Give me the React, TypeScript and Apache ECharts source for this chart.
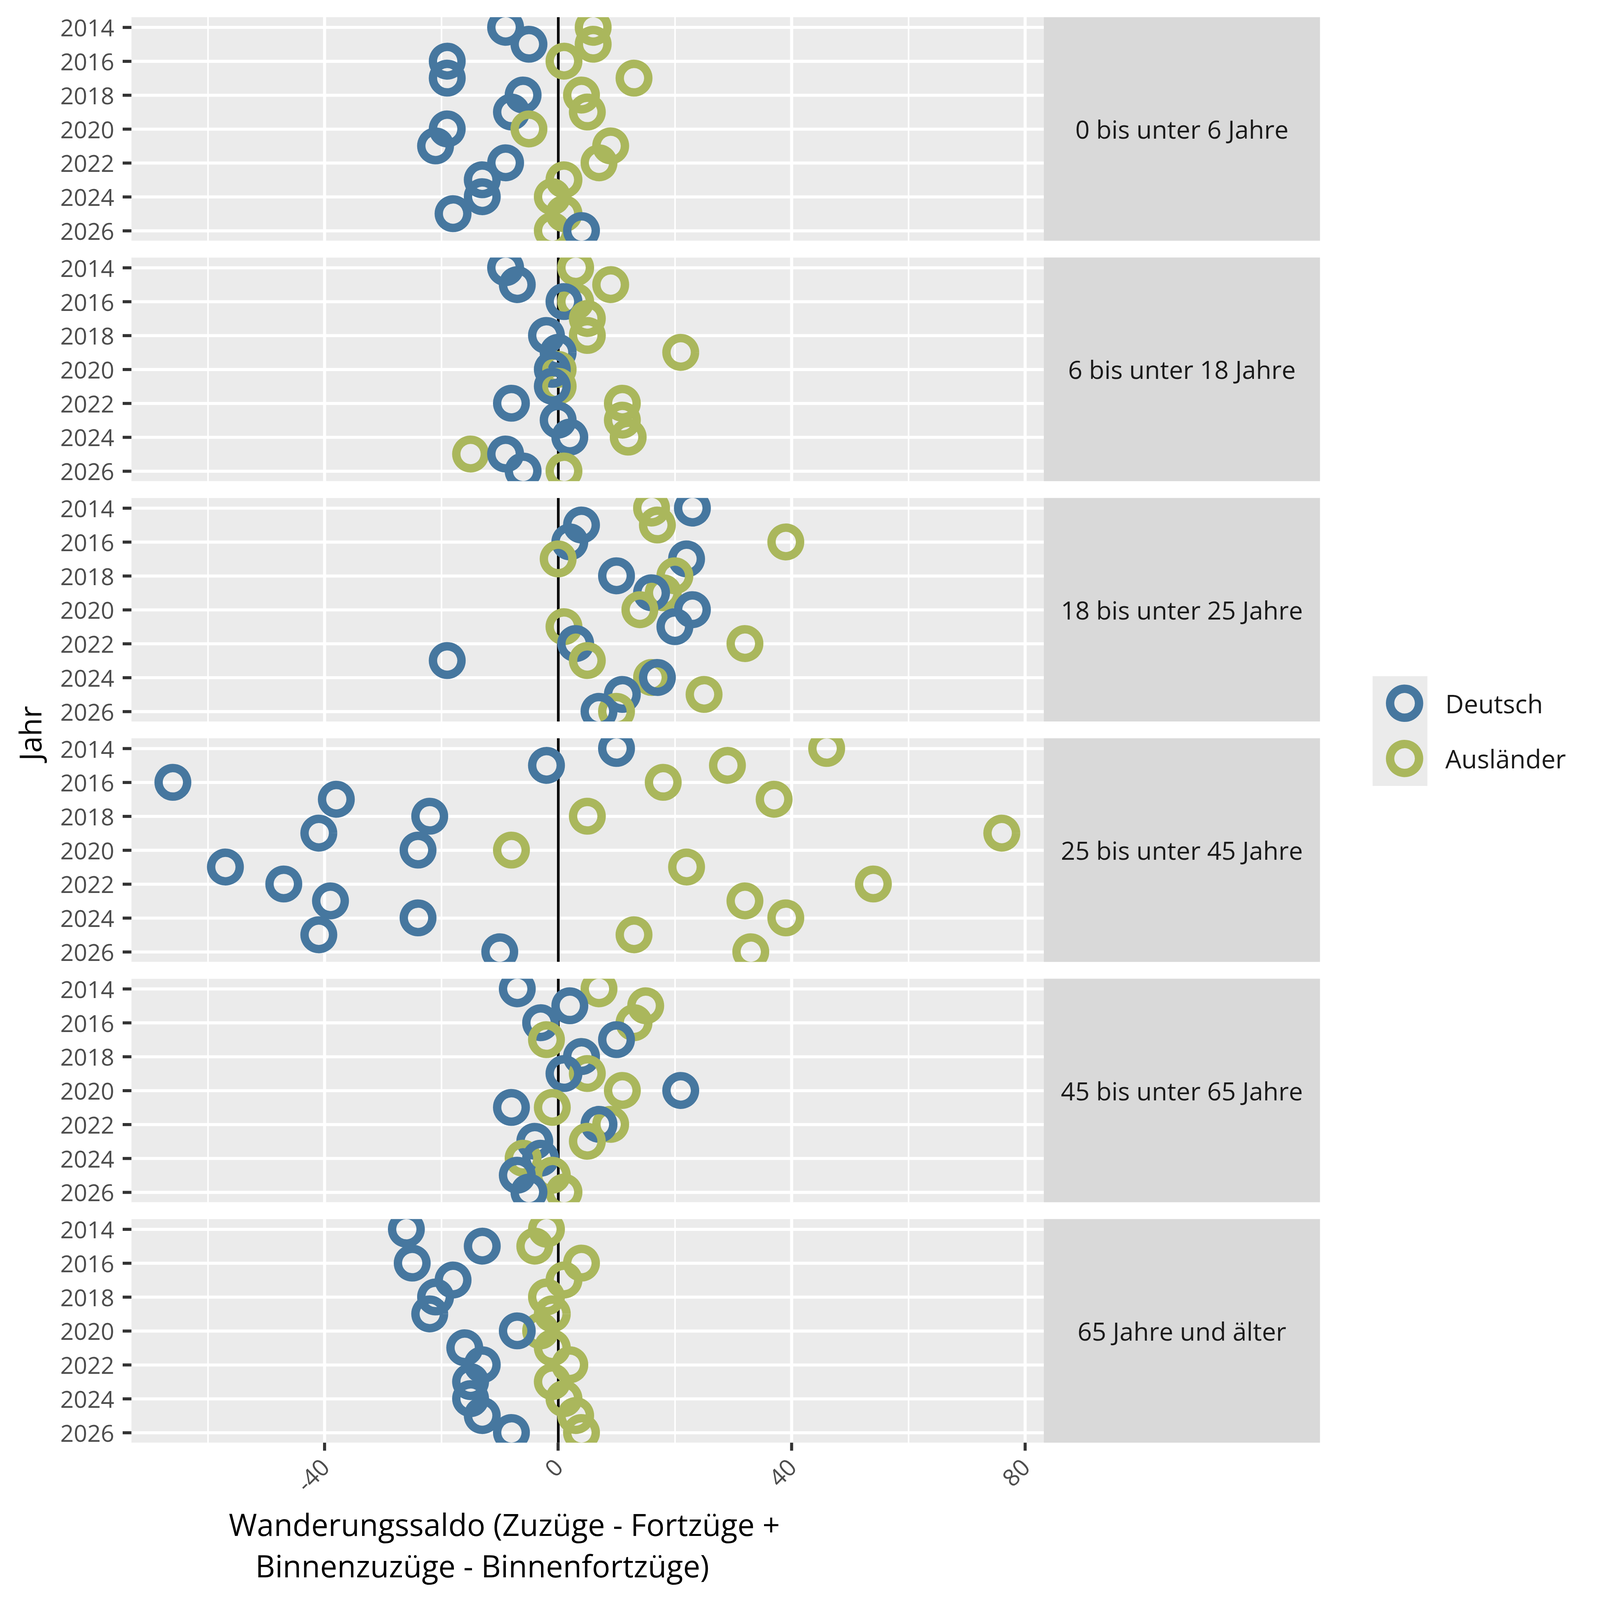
import React, { useEffect, useRef } from "react";
import * as echarts from "echarts";

// ---------- data ----------
const years = [2014, 2015, 2016, 2017, 2018, 2019, 2020, 2021, 2022, 2023, 2024, 2025, 2026];
const yearTicks = [2014, 2016, 2018, 2020, 2022, 2024, 2026];
const xTicks = [-40, 0, 40, 80];
const xMinorTicks = [-60, -20, 20, 60];

const ageGroups = [
  "0 bis unter 6 Jahre",
  "6 bis unter 18 Jahre",
  "18 bis unter 25 Jahre",
  "25 bis unter 45 Jahre",
  "45 bis unter 65 Jahre",
  "65 Jahre und älter",
];
const nationalities = ["Deutsch", "Ausländer"];

const deutsch_0_6 = [-9, -5, -19, -19, -6, -8, -19, -21, -9, -13, -13, -18, 4];
const auslaender_0_6 = [6, 6, 1, 13, 4, 5, -5, 9, 7, 1, -1, 1, -1];
const deutsch_6_18 = [-9, -7, 1, null, -2, 0, -1, -1, -8, 0, 2, -9, -6];
const auslaender_6_18 = [3, 9, 3, 5, 5, 21, 0, 0, 11, 11, 12, -15, 1];
const deutsch_18_25 = [23, 4, 2, 22, 10, 16, 23, 20, 3, -19, 17, 11, 7];
const auslaender_18_25 = [16, 17, 39, 0, 20, 18, 14, 1, 32, 5, 16, 25, 10];
const deutsch_25_45 = [10, -2, -66, -38, -22, -41, -24, -57, -47, -39, -24, -41, -10];
const auslaender_25_45 = [46, 29, 18, 37, 5, 76, -8, 22, 54, 32, 39, 13, 33];
const deutsch_45_65 = [-7, 2, -3, 10, 4, 1, 21, -8, 7, -4, -3, -7, -5];
const auslaender_45_65 = [7, 15, 13, -2, 4, 5, 11, -1, 9, 5, -6, -1, 1];
const deutsch_65 = [-26, -13, -25, -18, -21, -22, -7, -16, -13, -15, -15, -13, -8];
const auslaender_65 = [-2, -4, 4, 1, -2, -1, -3, -1, 2, -1, 1, 3, 4];

const deutschByGroup = [deutsch_0_6, deutsch_6_18, deutsch_18_25, deutsch_25_45, deutsch_45_65, deutsch_65];
const auslaenderByGroup = [auslaender_0_6, auslaender_6_18, auslaender_18_25, auslaender_25_45, auslaender_45_65, auslaender_65];

const xTitleLines = ["Wanderungssaldo (Zuzüge - Fortzüge +", "Binnenzuzüge - Binnenfortzüge)"];
const yTitle = "Jahr";

// ---------- layout / style ----------
const FONT = "Open Sans";
const W = 4200;
const H = 4200;
const PANEL_LEFT = 345;
const PANEL_RIGHT = 2740;
const STRIP_RIGHT = 3465;
const PANEL_TOP0 = 45;
const PANEL_H = 587;
const PANEL_STEP = 631;
const X_MIN = -73.1;
const X_MAX = 83.2;
const Y_MIN = 2013.4;
const Y_MAX = 2026.6;
const COLOR_DEUTSCH = "#46779F";
const COLOR_AUSLAENDER = "#AAB75C";
const SYMBOL_SIZE = 75;
const RING_WIDTH = 22;

// points drawn year by year (Ausländer first, Deutsch on top), like the reference
function panelPoints(deu: (number | null)[], aus: (number | null)[]) {
  const out: any[] = [];
  years.forEach((y, j) => {
    if (aus[j] !== null && aus[j] !== undefined) {
      out.push({ value: [aus[j], y], itemStyle: { borderColor: COLOR_AUSLAENDER } });
    }
    if (deu[j] !== null && deu[j] !== undefined) {
      out.push({ value: [deu[j], y], itemStyle: { borderColor: COLOR_DEUTSCH } });
    }
  });
  return out;
}

function buildOption() {
  const n = ageGroups.length;
  const panelW = PANEL_RIGHT - PANEL_LEFT;
  const grids: any[] = [];
  const xAxes: any[] = [];
  const yAxes: any[] = [];
  const series: any[] = [];
  const graphics: any[] = [];

  for (let i = 0; i < n; i++) {
    const top = PANEL_TOP0 + i * PANEL_STEP;
    grids.push({
      left: PANEL_LEFT,
      top,
      width: panelW,
      height: PANEL_H,
      show: true,
      backgroundColor: "#EBEBEB",
      borderWidth: 0,
      z: 0,
    });
    yAxes.push({
      gridIndex: i,
      type: "value",
      inverse: true,
      min: Y_MIN,
      max: Y_MAX,
      position: "left",
      z: 1,
      axisLine: { show: false, onZero: false },
      axisTick: {
        show: true,
        customValues: yearTicks,
        length: 23,
        lineStyle: { color: "#333333", width: 8 },
      },
      axisLabel: {
        show: true,
        customValues: yearTicks,
        margin: 45,
        fontSize: 62,
        fontFamily: FONT,
        color: "#4D4D4D",
        formatter: (v: number) => String(v),
      },
      splitLine: { show: true, lineStyle: { color: "#FFFFFF", width: 8 } },
    });
  }
  // major x gridlines
  for (let i = 0; i < n; i++) {
    xAxes.push({
      gridIndex: i,
      type: "value",
      min: X_MIN,
      max: X_MAX,
      position: "bottom",
      z: 1,
      axisLine: { show: false, onZero: false },
      axisTick: { show: false, customValues: xTicks },
      axisLabel: { show: false, customValues: xTicks },
      splitLine: { show: true, lineStyle: { color: "#FFFFFF", width: 8 } },
    });
  }
  // minor x gridlines
  for (let i = 0; i < n; i++) {
    xAxes.push({
      gridIndex: i,
      type: "value",
      min: X_MIN,
      max: X_MAX,
      position: "top",
      z: 1,
      axisLine: { show: false, onZero: false },
      axisTick: { show: false, customValues: xMinorTicks },
      axisLabel: { show: false, customValues: xMinorTicks },
      splitLine: { show: true, lineStyle: { color: "#FFFFFF", width: 4 } },
    });
  }
  // ticks + labels of bottom panel
  xAxes.push({
    gridIndex: n - 1,
    type: "value",
    min: X_MIN,
    max: X_MAX,
    position: "bottom",
    z: 6,
    axisLine: { show: false, onZero: false },
    axisTick: {
      show: true,
      customValues: xTicks,
      length: 21,
      lineStyle: { color: "#333333", width: 8 },
    },
    axisLabel: {
      show: true,
      customValues: xTicks,
      rotate: 45,
      margin: 52,
      fontSize: 62,
      fontFamily: FONT,
      color: "#4D4D4D",
      formatter: (v: number) => String(v),
    },
    splitLine: { show: false },
  });

  // legend-only series (no data) carrying the two nationality styles
  [COLOR_DEUTSCH, COLOR_AUSLAENDER].forEach((c, k) => {
    series.push({
      type: "scatter",
      name: nationalities[k],
      xAxisIndex: 0,
      yAxisIndex: 0,
      data: [],
      symbol: "circle",
      symbolSize: SYMBOL_SIZE,
      silent: true,
      itemStyle: { color: "rgba(0,0,0,0)", borderColor: c, borderWidth: RING_WIDTH, opacity: 1 },
    });
  });

  for (let i = 0; i < n; i++) {
    series.push({
      type: "scatter",
      name: ageGroups[i],
      xAxisIndex: i,
      yAxisIndex: i,
      data: panelPoints(deutschByGroup[i], auslaenderByGroup[i]),
      symbol: "circle",
      symbolSize: SYMBOL_SIZE,
      clip: false,
      silent: true,
      z: 3,
      itemStyle: {
        color: "rgba(0,0,0,0)",
        borderColor: COLOR_DEUTSCH,
        borderWidth: RING_WIDTH,
        opacity: 1,
      },
      emphasis: { disabled: true },
      markLine: {
        silent: true,
        z: 2,
        symbol: ["none", "none"],
        label: { show: false },
        lineStyle: { color: "#000000", width: 7, type: "solid", opacity: 1 },
        emphasis: { disabled: true },
        data: [{ xAxis: 0 }],
      },
    });
  }

  // white covers to clip ring overflow outside panels
  graphics.push({
    type: "rect",
    z: 4,
    silent: true,
    shape: { x: PANEL_LEFT, y: 0, width: panelW, height: PANEL_TOP0 },
    style: { fill: "#FFFFFF" },
  });
  for (let i = 0; i < n; i++) {
    const bottom = PANEL_TOP0 + i * PANEL_STEP + PANEL_H;
    const h = i < n - 1 ? PANEL_STEP - PANEL_H : 70;
    graphics.push({
      type: "rect",
      z: 4,
      silent: true,
      shape: { x: PANEL_LEFT, y: bottom, width: panelW, height: h },
      style: { fill: "#FFFFFF" },
    });
  }
  // strips
  for (let i = 0; i < n; i++) {
    const top = PANEL_TOP0 + i * PANEL_STEP;
    graphics.push({
      type: "rect",
      z: 4,
      silent: true,
      shape: { x: PANEL_RIGHT, y: top, width: STRIP_RIGHT - PANEL_RIGHT, height: PANEL_H },
      style: { fill: "#D9D9D9" },
    });
    graphics.push({
      type: "text",
      z: 5,
      silent: true,
      x: (PANEL_RIGHT + STRIP_RIGHT) / 2,
      y: top + PANEL_H / 2,
      style: {
        text: ageGroups[i],
        fontSize: 66,
        fontFamily: FONT,
        fill: "#1A1A1A",
        align: "center",
        verticalAlign: "middle",
      },
    });
  }
  // legend key background
  graphics.push({
    type: "rect",
    z: 0,
    silent: true,
    shape: { x: 3603, y: 1775, width: 144, height: 288 },
    style: { fill: "#EBEBEB" },
  });
  // axis titles
  graphics.push({
    type: "text",
    z: 5,
    silent: true,
    x: 1324,
    y: 4001,
    style: { text: xTitleLines[0], fontSize: 80, fontFamily: FONT, fill: "#000000", align: "center", verticalAlign: "middle" },
  });
  graphics.push({
    type: "text",
    z: 5,
    silent: true,
    x: 1266,
    y: 4110,
    style: { text: xTitleLines[1], fontSize: 80, fontFamily: FONT, fill: "#000000", align: "center", verticalAlign: "middle" },
  });
  graphics.push({
    type: "text",
    z: 5,
    silent: true,
    x: 78,
    y: 1925,
    rotation: Math.PI / 2,
    style: { text: yTitle, fontSize: 78, fontFamily: FONT, fill: "#000000", align: "center", verticalAlign: "middle" },
  });

  return {
    animation: false,
    backgroundColor: "#FFFFFF",
    textStyle: { fontFamily: FONT },
    grid: grids,
    xAxis: xAxes,
    yAxis: yAxes,
    series,
    legend: {
      data: nationalities,
      orient: "vertical",
      left: 3633,
      top: 1792,
      itemWidth: 76,
      itemHeight: 76,
      itemGap: 47,
      selectedMode: false,
      z: 6,
      itemStyle: { borderWidth: RING_WIDTH, opacity: 1 },
      textStyle: {
        fontSize: 67,
        fontFamily: FONT,
        color: "#1A1A1A",
        padding: [0, 0, 0, 64],
      },
    },
    graphic: { elements: graphics },
  };
}

export default function App() {
  const ref = useRef<HTMLDivElement>(null);
  const vw = typeof window !== "undefined" && window.innerWidth ? window.innerWidth : W;
  const scale = vw / W;
  useEffect(() => {
    document.body.style.margin = "0";
    document.body.style.overflow = "hidden";
    document.documentElement.style.overflow = "hidden";
    if (!ref.current) return;
    const chart = echarts.init(ref.current, undefined, { renderer: "svg", width: W, height: H });
    chart.setOption(buildOption() as any);
    return () => {
      chart.dispose();
    };
  }, []);
  return (
    <div style={{ width: W * scale, height: H * scale, overflow: "hidden" }}>
      <div
        ref={ref}
        style={{ width: W, height: H, transform: `scale(${scale})`, transformOrigin: "0 0" }}
      />
    </div>
  );
}
